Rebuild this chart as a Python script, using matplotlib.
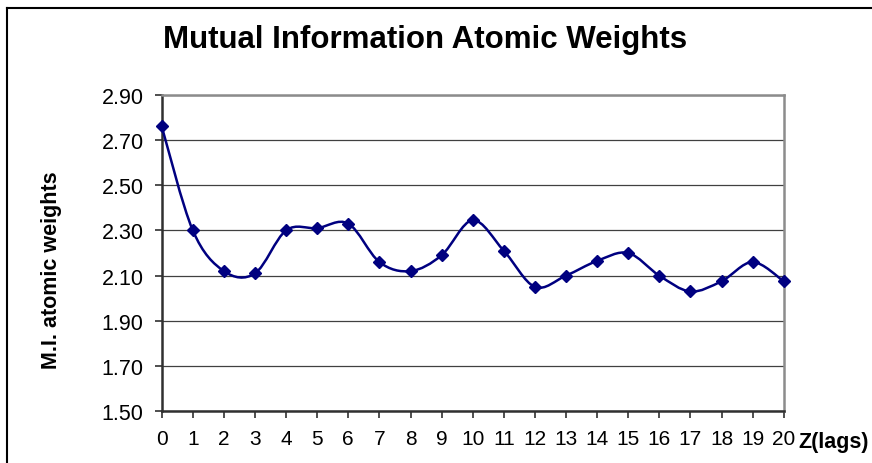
import matplotlib
matplotlib.use("Agg")
import matplotlib.pyplot as plt
import numpy as np
from matplotlib.path import Path
from matplotlib.patches import PathPatch
from matplotlib.lines import Line2D

plt.rcParams['font.family'] = ['Liberation Sans', 'DejaVu Sans']

lags = list(range(21))
weights = [2.76, 2.30, 2.12, 2.11, 2.30, 2.31, 2.33, 2.16, 2.12, 2.19, 2.345,
           2.21, 2.05, 2.10, 2.165, 2.20, 2.10, 2.03, 2.075, 2.16, 2.075]
y_ticks = [1.50, 1.70, 1.90, 2.10, 2.30, 2.50, 2.70, 2.90]

W, H = 872, 464
fig = plt.figure(figsize=(W / 100, H / 100), dpi=100)
ax = fig.add_axes([161.7 / W, 1 - 412.3 / H, (783.7 - 161.7) / W, (412.3 - 95.7) / H])

# Excel-style smoothed line: cubic bezier through the points
pts = np.column_stack([lags, weights]).astype(float)
verts = [pts[0]]
codes = [Path.MOVETO]
n = len(pts)
for i in range(n - 1):
    p0 = pts[max(i - 1, 0)]
    p1 = pts[i]
    p2 = pts[i + 1]
    p3 = pts[min(i + 2, n - 1)]
    c1 = p1 + (p2 - p0) / 6
    c2 = p2 - (p3 - p1) / 6
    verts += [c1, c2, p2]
    codes += [Path.CURVE4] * 3
ax.add_patch(PathPatch(Path(verts, codes), facecolor='none', edgecolor='#000080',
                       lw=1.8, zorder=3, clip_on=False))
ax.plot(lags, weights, linestyle='none', marker='D', ms=6.5, color='#000080',
        zorder=4, clip_on=False)

ax.set_xlim(0, 20)
ax.set_ylim(1.5, 2.9)
ax.set_xticks(lags)
ax.set_yticks(y_ticks)
ax.set_yticklabels([f'{v:.2f}' for v in y_ticks])
ax.grid(axis='y', color='#404040', lw=0.9)
ax.set_axisbelow(True)

for side in ['left', 'bottom']:
    ax.spines[side].set_color('#303030')
    ax.spines[side].set_linewidth(1.8)
for side in ['top', 'right']:
    ax.spines[side].set_color('#8c8c8c')
    ax.spines[side].set_linewidth(1.8)

ax.tick_params(axis='x', direction='out', length=5, width=1.2, color='#303030',
               labelsize=15, pad=8)
ax.tick_params(axis='y', direction='out', length=5, width=1.2, color='#303030',
               labelsize=15.5, pad=8)

fig.text(425 / W, 1 - 47.7 / H, 'Mutual Information Atomic Weights', ha='center',
         va='baseline', fontsize=22.5, fontweight='bold')
fig.text(52 / W, 1 - 270 / H, 'M.I. atomic weights', ha='center', va='center',
         rotation=90, fontsize=15.5, fontweight='bold')
fig.text(798 / W, 1 - 443 / H, 'Z(lags)', ha='left', va='center',
         fontsize=15.5, fontweight='bold')

# chart area border (runs off the right and bottom edges)
fig.add_artist(Line2D([6.5 / W, 1.0], [1 - 8.5 / H, 1 - 8.5 / H], color='black', lw=1.5))
fig.add_artist(Line2D([6.5 / W, 6.5 / W], [1 - 8.5 / H, 0.0], color='black', lw=1.5))

fig.savefig('out.png', dpi=100)
